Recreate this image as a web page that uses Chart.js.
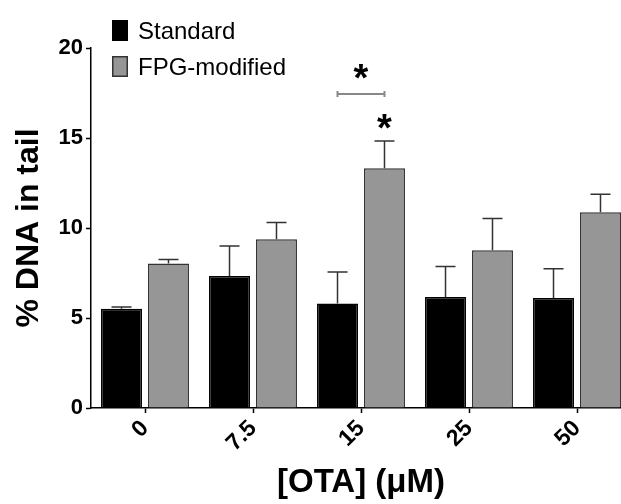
<!DOCTYPE html>
<html>
<head>
<meta charset="utf-8">
<script src="https://cdn.jsdelivr.net/npm/chart.js@4"></script>
<style>
  html, body { margin: 0; padding: 0; background: #fff; overflow: hidden; }
  #wrap { width: 631px; height: 504px; }
</style>
</head>
<body>
<div id="wrap"><canvas id="chart" width="631" height="504"></canvas></div>
<script>
// dados
const categories = ['0', '7.5', '15', '25', '50'];
const standardMean = [5.52, 7.34, 5.80, 6.17, 6.11];
const standardErr = [0.09, 1.66, 1.76, 1.69, 1.62];
const fpgMean = [8.03, 9.38, 13.32, 8.77, 10.88];
const fpgErr = [0.22, 0.93, 1.52, 1.76, 0.99];
const yTicks = [0, 5, 10, 15, 20];

// marcação de significância (grupo 15 µM)
const sigGroup = 2;
const sigBracketValue = 17.45;
const sigStarValue = 18.64;
const sigStarFpgValue = 15.9;

const FONT = "'Liberation Sans', Arial, sans-serif";

// barras de erro (só para cima, estilo GraphPad)
const errorBars = {
    id: 'errorBars',
    afterDatasetsDraw(chart) {
        const { ctx, scales: { y } } = chart;
        chart.data.datasets.forEach((ds, i) => {
            const meta = chart.getDatasetMeta(i);
            meta.data.forEach((bar, j) => {
                const top = y.getPixelForValue(ds.data[j] + ds.errors[j]);
                ctx.save();
                ctx.strokeStyle = '#333';
                ctx.lineWidth = 1.5;
                ctx.beginPath();
                ctx.moveTo(bar.x, bar.y);
                ctx.lineTo(bar.x, top);
                ctx.moveTo(bar.x - 10, top);
                ctx.lineTo(bar.x + 10, top);
                ctx.stroke();
                ctx.restore();
            });
        });
    }
};

// colchete e asteriscos
const significance = {
    id: 'significance',
    afterDraw(chart) {
        const { ctx, scales: { y } } = chart;
        const a = chart.getDatasetMeta(0).data[sigGroup];
        const b = chart.getDatasetMeta(1).data[sigGroup];
        const by = y.getPixelForValue(sigBracketValue);
        ctx.save();
        ctx.strokeStyle = '#888';
        ctx.lineWidth = 2;
        ctx.beginPath();
        ctx.moveTo(a.x, by); ctx.lineTo(b.x, by);
        ctx.moveTo(a.x, by - 3); ctx.lineTo(a.x, by + 3);
        ctx.moveTo(b.x, by - 3); ctx.lineTo(b.x, by + 3);
        ctx.stroke();
        ctx.fillStyle = '#000';
        ctx.font = 'bold 38px ' + FONT;
        ctx.textAlign = 'center';
        ctx.textBaseline = 'alphabetic';
        // o asterisco fica ~0.5em acima da linha de base
        ctx.fillText('*', (a.x + b.x) / 2, y.getPixelForValue(sigStarValue) + 19);
        ctx.fillText('*', b.x, y.getPixelForValue(sigStarFpgValue) + 19);
        ctx.restore();
    }
};

// legenda no canto superior esquerdo
const topLegend = {
    id: 'topLegend',
    afterDraw(chart) {
        const { ctx } = chart;
        chart.data.datasets.forEach((ds, i) => {
            const y0 = 20 + i * 36;
            ctx.save();
            ctx.fillStyle = ds.backgroundColor;
            ctx.strokeStyle = ds.borderColor;
            ctx.lineWidth = 1.5;
            ctx.fillRect(112, y0, 16, 21);
            ctx.strokeRect(112.75, y0 + 0.75, 14.5, 19.5);
            ctx.fillStyle = '#000';
            ctx.font = '24px ' + FONT;
            ctx.textBaseline = 'alphabetic';
            ctx.fillText(ds.label, 138, y0 + 19);
            ctx.restore();
        });
    }
};

new Chart(document.getElementById('chart'), {
    type: 'bar',
    data: {
        labels: categories,
        datasets: [
            {
                label: 'Standard',
                data: standardMean,
                errors: standardErr,
                backgroundColor: '#000000',
                borderColor: '#000000',
                borderWidth: 1.5
            },
            {
                label: 'FPG-modified',
                data: fpgMean,
                errors: fpgErr,
                backgroundColor: '#969696',
                borderColor: '#333333',
                borderWidth: 1.5
            }
        ]
    },
    options: {
        responsive: false,
        animation: false,
        datasets: { bar: { categoryPercentage: 0.87, barPercentage: 0.872 } },
        layout: { padding: { top: 48, left: 0, right: 0, bottom: 0 } },
        plugins: {
            legend: { display: false },
            tooltip: { enabled: false }
        },
        scales: {
            x: {
                grid: { display: true, drawOnChartArea: false, offset: false, tickLength: 5, tickColor: '#000', tickWidth: 1.5 },
                border: { color: '#000', width: 1.5 },
                ticks: {
                    color: '#000',
                    font: { family: FONT, size: 23, weight: 'bold' },
                    minRotation: 45,
                    maxRotation: 45,
                    padding: 2
                },
                title: {
                    display: true,
                    text: '[OTA] (\u03BCM)',
                    color: '#000',
                    font: { family: FONT, size: 33, weight: 'bold' },
                    padding: { top: 0, bottom: 1 }
                },
                afterFit: (scale) => { scale.height = 96; }
            },
            y: {
                min: 0,
                max: 20,
                afterBuildTicks: (scale) => { scale.ticks = yTicks.map(v => ({ value: v })); },
                grid: { display: true, drawOnChartArea: false, tickLength: 5, tickColor: '#000', tickWidth: 1.5 },
                border: { color: '#000', width: 1.5 },
                ticks: {
                    color: '#000',
                    font: { family: FONT, size: 22, weight: 'bold' },
                    padding: 3
                },
                title: {
                    display: true,
                    text: '% DNA in tail',
                    color: '#000',
                    font: { family: FONT, size: 32, weight: 'bold' },
                    padding: { top: 10, bottom: 0 }
                },
                afterFit: (scale) => { scale.width = 91; }
            }
        }
    },
    plugins: [errorBars, significance, topLegend]
});
</script>
</body>
</html>
